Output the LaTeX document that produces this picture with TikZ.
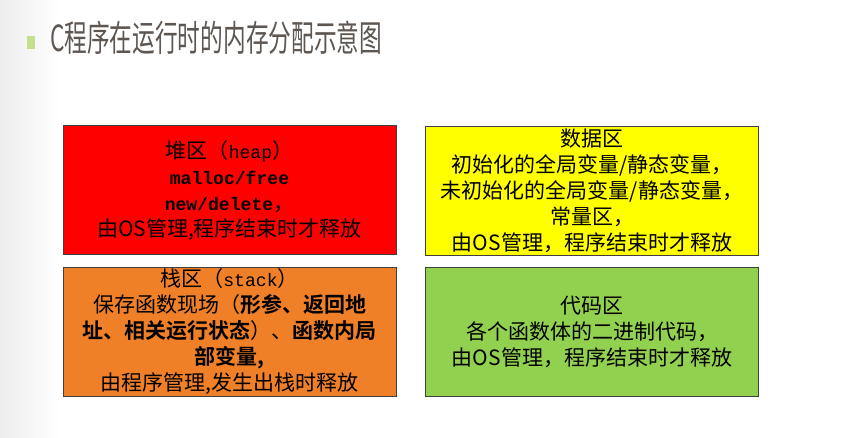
\documentclass[tikz,border=0pt]{standalone}
\usepackage{fontspec}
\setmainfont[BoldFont={Noto Sans CJK SC Bold}]{Noto Sans CJK SC}
\newfontfamily\codefont[Scale=0.86]{Liberation Mono}
\usetikzlibrary{positioning}
\definecolor{heapred}{RGB}{255,0,0}
\definecolor{datayellow}{RGB}{255,255,0}
\definecolor{stackorange}{RGB}{240,128,40}
\definecolor{codegreen}{RGB}{146,208,80}
\definecolor{titlegray}{RGB}{94,86,80}
\definecolor{bulletgreen}{RGB}{196,224,140}

\begin{document}
\begin{tikzpicture}[x=1pt,y=-1pt,
  membox/.style={draw=black!75,line width=1pt,minimum width=333pt,minimum height=129pt,
    inner sep=0pt,align=center,font=\fontsize{21}{26}\selectfont}]
  \useasboundingbox (0,0) rectangle (848,438);
  % --- slide background ---
  \fill[white] (0,0) rectangle (848,438);
  \shade[left color=black!7,right color=white] (0,0) rectangle (60,438);
  % --- title ---
  \fill[bulletgreen] (27,36) rectangle (35,49);
  \node[anchor=west,text=titlegray,xscale=0.63,inner sep=0pt,
        font=\fontsize{36}{36}\selectfont] (title) at (50,38) {C程序在运行时的内存分配示意图};
  % --- memory regions ---
  \node[membox,fill=heapred] (heap) at (229.5,190.5)
    {堆区（{\codefont heap}）\\
     {\codefont\bfseries malloc/free}\\
     {\codefont\bfseries new/delete}，\\
     由OS管理,程序结束时才释放};
  \node[membox,fill=datayellow] (data) at (592,191)
    {数据区\\
     初始化的全局变量/静态变量，\\
     未初始化的全局变量/静态变量，\\
     常量区，\\
     由OS管理，程序结束时才释放};
  \node[membox,fill=stackorange] (stack) at (229.5,331.5)
    {栈区（{\codefont stack}）\\
     保存函数现场（\textbf{形参、返回地}\\
     \textbf{址、相关运行状态}）、\textbf{函数内局}\\
     \textbf{部变量,}\\
     由程序管理,发生出栈时释放};
  \node[membox,fill=codegreen] (code) at (592,332)
    {代码区\\
     各个函数体的二进制代码，\\
     由OS管理，程序结束时才释放};
\end{tikzpicture}
\end{document}
